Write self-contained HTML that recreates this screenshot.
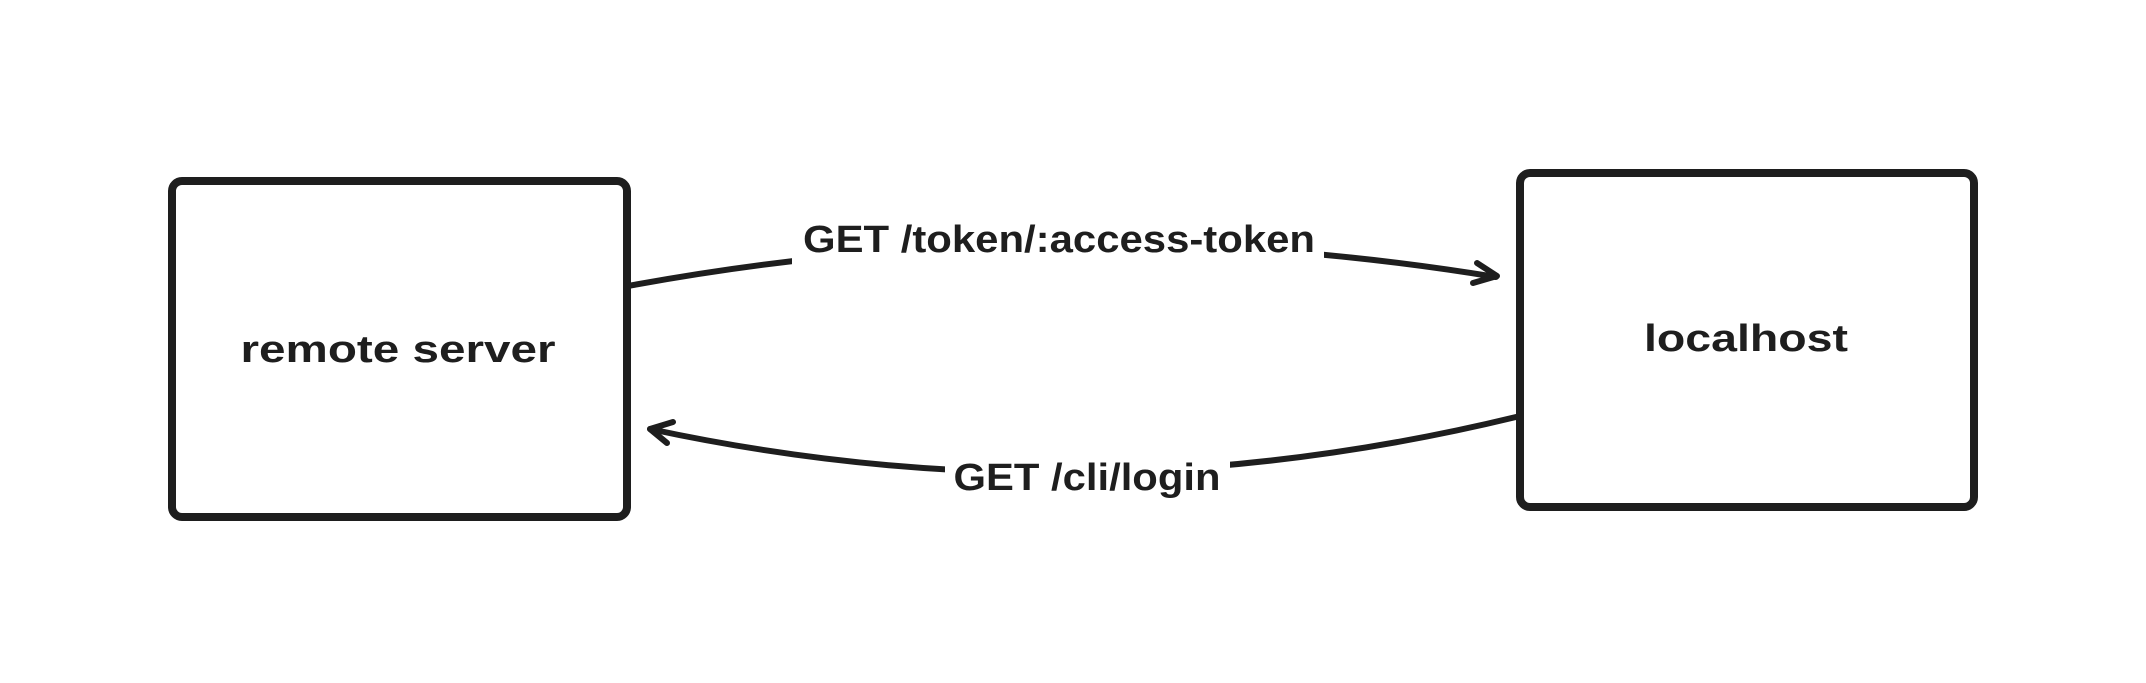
<!DOCTYPE html>
<html><head><style>html,body{margin:0;padding:0;background:#fff;}svg{display:block}</style></head>
<body>
<svg width="2146" height="683" viewBox="0 0 2146 683" xmlns="http://www.w3.org/2000/svg">
<rect width="2146" height="683" fill="#fff"/>
<g fill="none" stroke="#1e1e1e" stroke-linecap="round" stroke-linejoin="round">
<rect x="172" y="181" width="455" height="336" rx="10" stroke-width="8"/>
<rect x="1520" y="173" width="454" height="334" rx="10" stroke-width="8"/>
<path d="M628 286 Q1062 206 1496 277" stroke-width="6"/>
<path d="M1477 263 L1497 276 L1473 283" stroke-width="6"/>
<path d="M1516 417 Q1083 522 650 429" stroke-width="6"/>
<path d="M673 422 L650 429 L667 443" stroke-width="6"/>
</g>
<rect x="792" y="212" width="532" height="58" fill="#fff"/>
<rect x="945" y="450" width="285" height="56" fill="#fff"/>
<g font-family="Liberation Sans, sans-serif" font-weight="bold" fill="#1e1e1e" text-anchor="middle">
<text x="1059" y="252" font-size="38" textLength="512" lengthAdjust="spacingAndGlyphs">GET /token/:access-token</text>
<text x="1087" y="490" font-size="38" textLength="267" lengthAdjust="spacingAndGlyphs">GET /cli/login</text>
<text x="398" y="362" font-size="38" textLength="315" lengthAdjust="spacingAndGlyphs">remote server</text>
<text x="1746" y="351" font-size="38" textLength="204" lengthAdjust="spacingAndGlyphs">localhost</text>
</g>
</svg>
</body></html>
